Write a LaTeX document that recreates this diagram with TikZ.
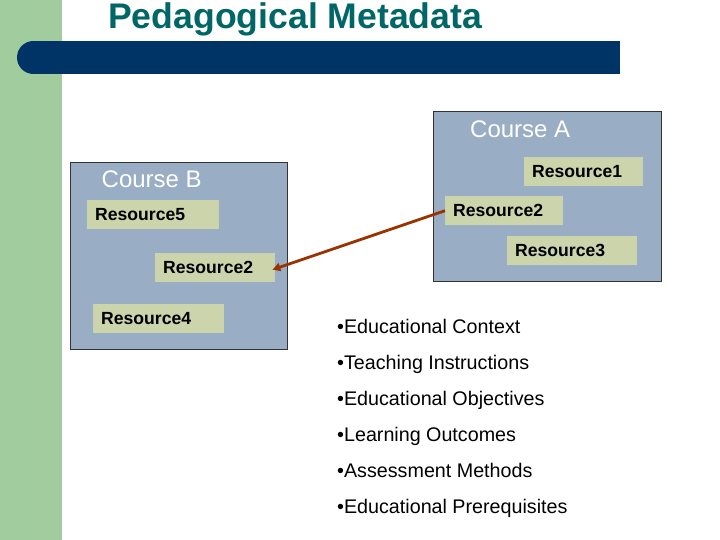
\documentclass[tikz,border=0pt]{standalone}
\usepackage{fontspec}
\setmainfont{Liberation Sans}
\usetikzlibrary{arrows.meta}
\definecolor{stripgreen}{RGB}{160,204,158}
\definecolor{barblue}{RGB}{0,51,102}
\definecolor{titleteal}{RGB}{0,102,102}
\definecolor{coursefill}{RGB}{153,173,196}
\definecolor{resfill}{RGB}{204,212,172}
\definecolor{arrowbrown}{RGB}{153,51,0}
\tikzset{
  course/.style={draw=black!80, line width=0.8pt, fill=coursefill, anchor=north west, inner sep=0pt},
  coursetitle/.style={text=white, font=\fontsize{24}{28}\selectfont, anchor=base west, inner sep=0pt},
  res/.style={fill=resfill, font=\fontsize{17.6}{20}\selectfont\bfseries, inner xsep=8pt, inner ysep=0pt, minimum height=29pt, align=left, anchor=north west},
  bullet/.style={font=\fontsize{19.7}{23}\selectfont, anchor=base west, inner sep=0pt},
  link/.style={draw=arrowbrown, line width=2.8pt, -{Triangle[length=8pt,width=8pt]}}
}
\begin{document}
\begin{tikzpicture}[x=1pt,y=-1pt]
\useasboundingbox (0,0) rectangle (720,540);
\fill[white] (0,0) rectangle (720,540);
% left strip
\fill[stripgreen] (0,0) rectangle (62,540);
% top bar
\fill[barblue] (33.5,41) rectangle (620,74);
\fill[barblue] (33.5,57.5) circle (16.5);
% title
\node[anchor=base west, inner sep=0pt, text=titleteal, font=\fontsize{35.6}{40}\selectfont\bfseries] (title) at (108,28.5) {Pedagogical Metadata};
% Course A
\node[course, minimum width=228pt, minimum height=170pt] (A) at (433,111) {};
\node[coursetitle] (Atitle) at (470,138) {Course A};
\node[res, text width=103pt] (r1) at (524,157) {Resource1};
\node[res, text width=102pt] (r2a) at (445,196) {Resource2};
\node[res, text width=114pt] (r3) at (507,236) {Resource3};
% Course B
\node[course, minimum width=217pt, minimum height=187pt] (B) at (70,162) {};
\node[coursetitle] (Btitle) at (101.5,188) {Course B};
\node[res, text width=116pt] (r5) at (87,200) {Resource5};
\node[res, text width=104pt] (r2b) at (155,253) {Resource2};
\node[res, text width=115pt] (r4) at (93,304) {Resource4};
% link
\draw[link] (r2a.west) -- ([xshift=-3pt,yshift=-2pt]r2b.east);
% bullets
\node[bullet] (b1) at (337,333) {•Educational Context};
\node[bullet] (b2) at (337,369) {•Teaching Instructions};
\node[bullet] (b3) at (337,405) {•Educational Objectives};
\node[bullet] (b4) at (337,441) {•Learning Outcomes};
\node[bullet] (b5) at (337,477) {•Assessment Methods};
\node[bullet] (b6) at (337,513) {•Educational Prerequisites};
\end{tikzpicture}
\end{document}
